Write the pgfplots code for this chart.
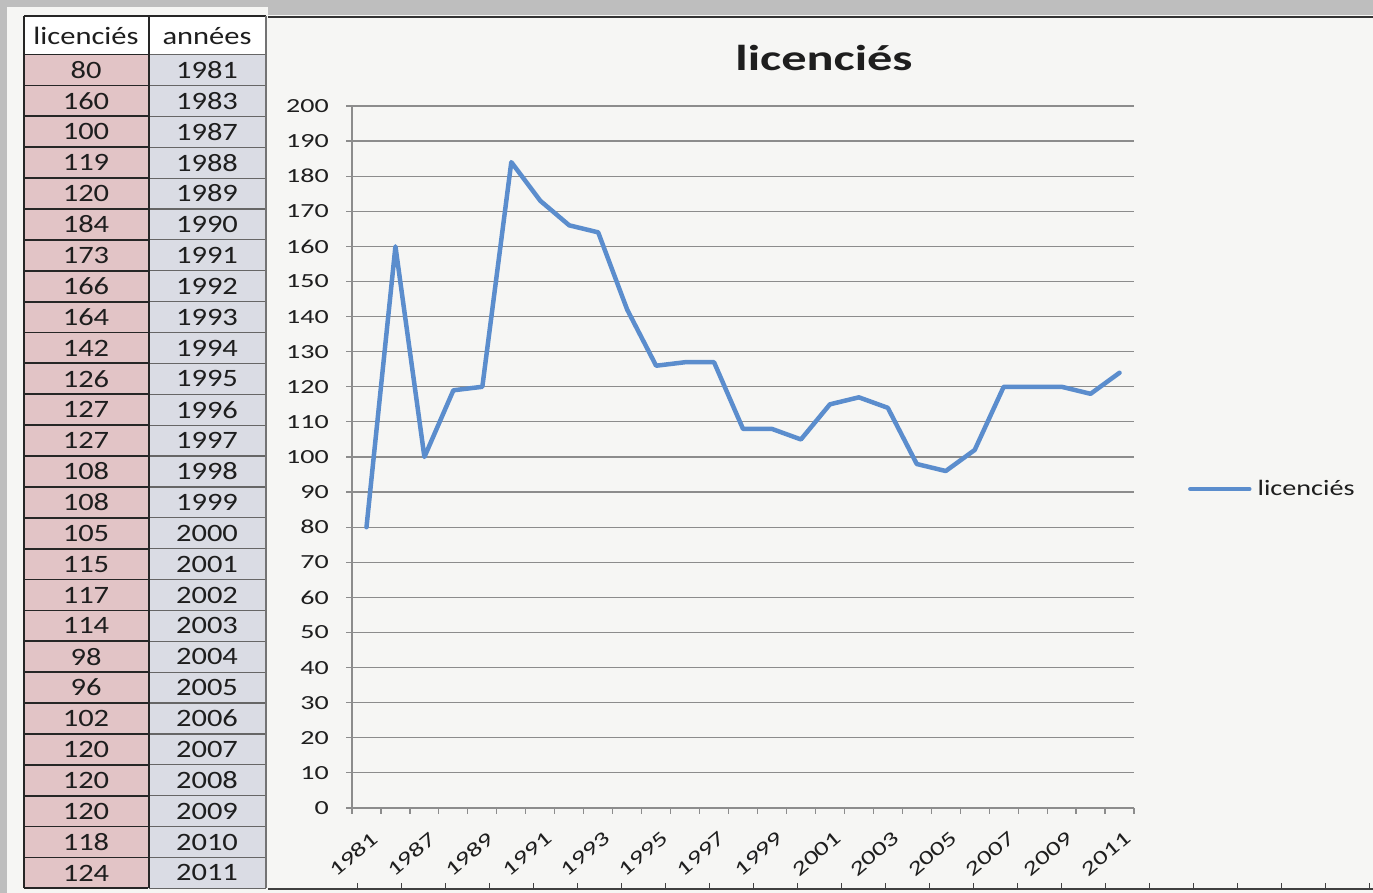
\documentclass[border=0pt]{standalone}
\usepackage{fontspec}
\setmainfont{Carlito}
\newfontfamily\tabfont{Carlito}[FakeStretch=1.22]
\newfontfamily\chartfont{Carlito}[FakeStretch=1.4]
\newfontfamily\legfont{Carlito}[FakeStretch=1.28]
\usepackage{pgfplots}
\usepackage{pgfplotstable}
\pgfplotsset{compat=1.18}
\definecolor{linecol}{RGB}{91,141,205}
\definecolor{gridcol}{RGB}{140,140,140}
\definecolor{pagecol}{RGB}{246,246,244}
\definecolor{framecol}{RGB}{190,190,190}
\definecolor{pinkcell}{RGB}{226,196,198}
\definecolor{greycell}{RGB}{218,220,228}
\definecolor{txt}{RGB}{30,30,30}

\pgfplotstableread{
year lic
1981 80
1983 160
1987 100
1988 119
1989 120
1990 184
1991 173
1992 166
1993 164
1994 142
1995 126
1996 127
1997 127
1998 108
1999 108
2000 105
2001 115
2002 117
2003 114
2004 98
2005 96
2006 102
2007 120
2008 120
2009 120
2010 118
2011 124
}\data

\begin{document}
\begin{tikzpicture}[x=1pt,y=1pt]
\useasboundingbox (0,0) rectangle (1373,893);
\fill[pagecol] (0,0) rectangle (1373,893);
\fill[framecol] (0,0) rectangle (7,893);
\fill[framecol] (0,886) rectangle (1373,893);
\fill[framecol] (268,878) rectangle (1373,886);
\draw[black!80, line width=2pt] (268,876) -- (1373,876);
% bottom spreadsheet row line
\draw[black!75, line width=1.5pt] (268,4) -- (1373,4);
\foreach \k in {0,...,23} \draw[black!75, line width=1pt] (357+44*\k,4) -- ++(0,6);
% table header
\fill[white] (24,893-16) rectangle (266,893-54.6);
\node[txt, font=\tabfont\fontsize{25}{30}\selectfont] at (86,893-36) {licenciés};
\node[txt, font=\tabfont\fontsize{25}{30}\selectfont] at (207,893-36) {années};
% table rows: fills and text
\pgfplotstablegetrowsof{\data}
\pgfmathtruncatemacro{\nrows}{\pgfplotsretval-1}
\foreach \i in {0,...,\nrows} {
  \pgfplotstablegetelem{\i}{lic}\of{\data}\let\vlic\pgfplotsretval
  \pgfplotstablegetelem{\i}{year}\of{\data}\let\vyear\pgfplotsretval
  \pgfmathsetmacro{\ytop}{893-54.6-30.88*\i}
  \pgfmathsetmacro{\ybot}{\ytop-30.88}
  \pgfmathsetmacro{\ymid}{\ytop-15.44}
  \fill[pinkcell] (24,\ybot) rectangle (148,\ytop);
  \fill[greycell] (149,\ybot) rectangle (266,\ytop);
  \node[txt, font=\tabfont\fontsize{25}{30}\selectfont] at (86,\ymid) {\vlic};
  \node[txt, font=\tabfont\fontsize{25}{30}\selectfont] at (207,\ymid) {\vyear};
}
% table rows: borders
\foreach \i in {0,...,27} {
  \pgfmathsetmacro{\yl}{893-54.6-30.88*\i}
  \draw[black!85, line width=1.8pt] (24,\yl) -- (148,\yl);
  \draw[black!60, line width=1.2pt] (149,\yl) -- (266,\yl);
}
\draw[black!85, line width=1.8pt] (24,893-16) -- (266,893-16);
\draw[black!85, line width=2pt] (24,893-16) -- (24,893-888.4);
\draw[black!85, line width=2pt] (148.5,893-16) -- (148.5,893-888.4);
\draw[black!55, line width=1.2pt] (266,893-16) -- (266,893-888.4);
% title
\node[txt, anchor=base, font=\chartfont\bfseries\fontsize{36}{40}\selectfont] at (824,893-71) {licenciés};
\begin{axis}[
  at={(352pt,85pt)}, anchor=south west,
  scale only axis, width=782pt, height=702pt,
  xmin=-0.5, xmax=26.5, ymin=0, ymax=200,
  axis lines*=left,
  axis line style={gridcol, line width=1.2pt},
  xtick={-0.5,0.5,...,26.5},
  xticklabels={},
  extra x ticks={0,2,...,26},
  extra x tick labels={1981,1987,1989,1991,1993,1995,1997,1999,2001,2003,2005,2007,2009,2011},
  extra x tick style={major tick length=0pt},
  ytick={0,10,...,200},
  ymajorgrids,
  major grid style={gridcol, line width=1.2pt},
  tick align=outside,
  major tick length=6pt,
  tick style={gridcol, line width=1.2pt},
  /pgf/number format/assume math mode=true,
  ticklabel style={txt, font=\chartfont\fontsize{20}{24}\selectfont},
  yticklabel style={inner sep=0pt, anchor=east, xshift=-17pt},
  xticklabel style={inner sep=0pt, rotate=40, anchor=north east, yshift=-20pt, xshift=-11pt},
  clip=false,
  legend style={at={(rel axis cs:1.0691,0.4544)}, anchor=west, draw=none, fill=none,
    inner sep=0pt, outer sep=0pt, column sep=6pt,
    nodes={inner sep=0pt, txt},
    font=\legfont\fontsize{22}{26}\selectfont},
  legend image code/.code={\draw[#1] (0pt,0pt) -- (59pt,0pt);},
]
\addplot[linecol, line width=4.5pt, line join=round, line cap=round] table[x expr=\coordindex, y=lic] {\data};
\addlegendentry{licenciés}
\end{axis}
\end{tikzpicture}
\end{document}
